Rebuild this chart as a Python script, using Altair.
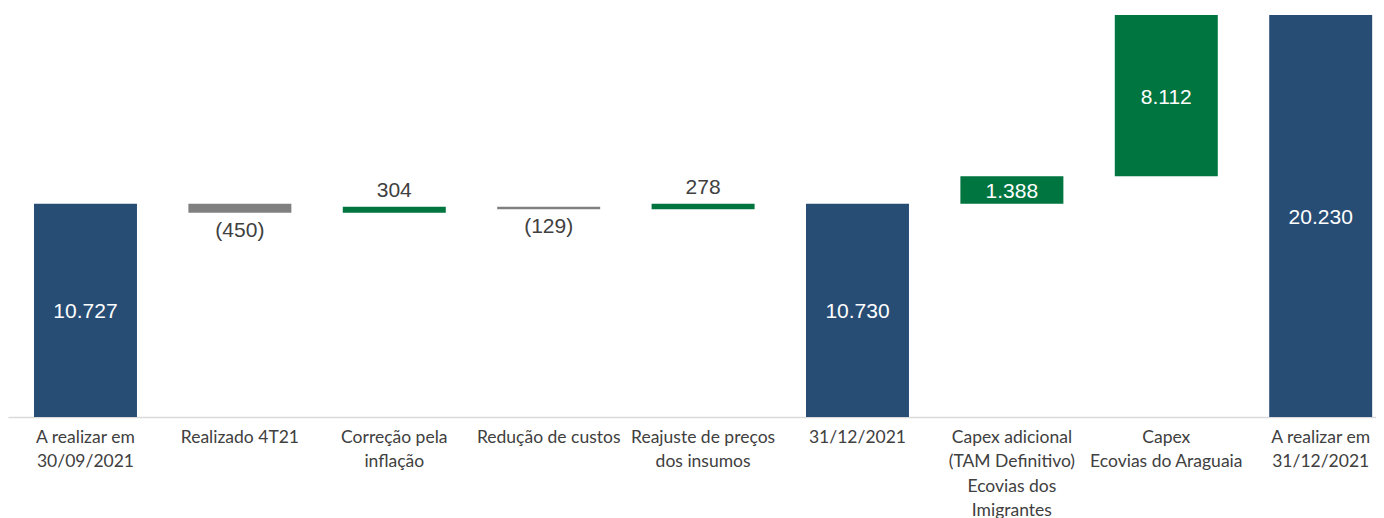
import altair as alt
import pandas as pd

categories = [
    "A realizar em\n30/09/2021",
    "Realizado 4T21",
    "Correção pela\ninflação",
    "Redução de custos",
    "Reajuste de preços\ndos insumos",
    "31/12/2021",
    "Capex adicional\n(TAM Definitivo)\nEcovias dos\nImigrantes",
    "Capex\nEcovias do Araguaia",
    "A realizar em\n31/12/2021",
]
values = [10727, -450, 304, -129, 278, 10730, 1388, 8112, 20230]
kinds = ["total", "neg", "pos", "neg", "pos", "total", "pos", "pos", "total"]
label_pos = ["inside", "below", "above", "below", "above", "inside", "inside", "inside", "inside"]


def fmt(v):
    s = f"{abs(v):,}".replace(",", ".")
    return f"({s})" if v < 0 else s


rows = []
running = 0
for c, v, k, lp in zip(categories, values, kinds, label_pos):
    if k == "total":
        start, end = 0, v
        running = v
    else:
        start, end = running, running + v
        running = end
    rows.append({
        "cat": c, "start": start, "end": end,
        "lo": min(start, end), "hi": max(start, end),
        "mid": (start + end) / 2, "kind": k, "lp": lp, "label": fmt(v),
    })
df = pd.DataFrame(rows)

x = alt.X(
    "cat:N",
    sort=categories,
    title=None,
    scale=alt.Scale(paddingInner=0.333, paddingOuter=0.0965, align=0.872),
    axis=alt.Axis(
        labelAngle=0,
        labelExpr="split(datum.label, '\\n')",
        labelFont="Lato",
        labelFontSize=17.5,
        labelColor="#404040",
        labelLineHeight=24.5,
        labelPadding=11,
        labelLimit=400,
        ticks=False,
        domainColor="#D9D9D9",
        domainWidth=1.5,
        grid=False,
    ),
)
yscale = alt.Scale(domain=[0, 20230], nice=False, zero=True)

base = alt.Chart(df)

bars = base.mark_bar().encode(
    x=x,
    y=alt.Y("start:Q", scale=yscale, axis=None),
    y2="end:Q",
    color=alt.Color(
        "kind:N",
        scale=alt.Scale(domain=["total", "pos", "neg"], range=["#284D75", "#00753F", "#808080"]),
        legend=None,
    ),
)

inside = base.transform_filter("datum.lp == 'inside'").mark_text(
    font="Liberation Sans", fontSize=21, color="white", baseline="middle", dy=2
).encode(x=x, y=alt.Y("mid:Q", scale=yscale), text="label:N")

above = base.transform_filter("datum.lp == 'above'").mark_text(
    font="Liberation Sans", fontSize=21, color="#404040", baseline="middle", dy=-16
).encode(x=x, y=alt.Y("hi:Q", scale=yscale), text="label:N")

below = base.transform_filter("datum.lp == 'below'").mark_text(
    font="Liberation Sans", fontSize=21, color="#404040", baseline="middle", dy=18
).encode(x=x, y=alt.Y("lo:Q", scale=yscale), text="label:N")

chart = (
    alt.layer(bars, inside, above, below)
    .properties(
        width=1368,
        height=402,
        autosize=alt.AutoSizeParams(type="none"),
        padding={"left": 0, "top": 7, "right": 0, "bottom": 110},
    )
    .configure_view(stroke=None)
)

chart.save("out.html", embed_options={"renderer": "svg", "actions": False})
